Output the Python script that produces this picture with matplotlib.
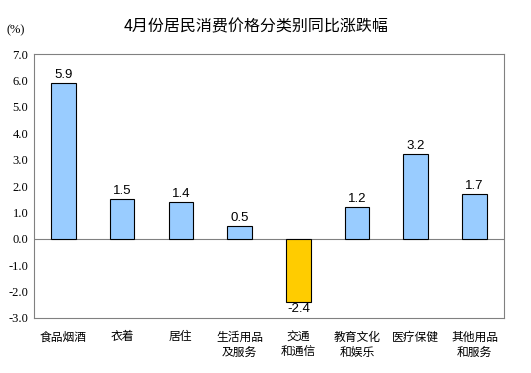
import matplotlib
matplotlib.use("Agg")
from matplotlib import pyplot as plt
import numpy

plt.rcParams['font.family'] = ['Noto Sans CJK SC', 'DejaVu Sans']

categories = ["食品烟酒", "衣着", "居住", "生活用品\n及服务", "交通\n和通信",
              "教育文化\n和娱乐", "医疗保健", "其他用品\n和服务"]
values = [5.9, 1.5, 1.4, 0.5, -2.4, 1.2, 3.2, 1.7]
bar_colors = ['#99CCFF', '#99CCFF', '#99CCFF', '#99CCFF', '#FFCC00',
              '#99CCFF', '#99CCFF', '#99CCFF']
yticks = numpy.arange(-3.0, 7.01, 1.0)

fig = plt.figure(figsize=(5.31, 3.73), dpi=100)
ax = fig.add_axes([0.064, 0.1475, 0.885, 0.7075])

x = numpy.arange(len(values))
bars = ax.bar(x, values, 0.42, color=bar_colors, edgecolor='black', linewidth=0.8, zorder=3)

for xi, v in zip(x, values):
    if v >= 0:
        ax.text(xi, v + 0.08, "%.1f" % v, ha='center', va='bottom',
                fontsize=9.5, family='Liberation Sans')
    else:
        ax.text(xi, v - 0.05, "%.1f" % v, ha='center', va='top',
                fontsize=9.5, family='Liberation Sans')

ax.axhline(0, color='#808080', linewidth=0.8, zorder=2)
ax.set_xlim(-0.5, len(values) - 0.5)
ax.set_ylim(-3.0, 7.0)
ax.set_yticks(yticks)
ax.set_yticklabels(["%.1f" % t for t in yticks], family='Liberation Serif', fontsize=9)
ax.set_xticks(x)
ax.set_xticklabels(categories, fontsize=8.5, linespacing=1.25)
ax.tick_params(axis='both', length=0)
ax.tick_params(axis='x', pad=9)
ax.tick_params(axis='y', pad=4)
for s in ax.spines.values():
    s.set_color('#808080')
    s.set_linewidth(0.8)

fig.text(0.482, 0.928, "4月份居民消费价格分类别同比涨跌幅", ha='center', va='center', fontsize=11.5)
fig.text(0.029, 0.92, "(%)", ha='center', va='center', fontsize=9, family='Liberation Serif')

fig.savefig("out.png", dpi=100)
